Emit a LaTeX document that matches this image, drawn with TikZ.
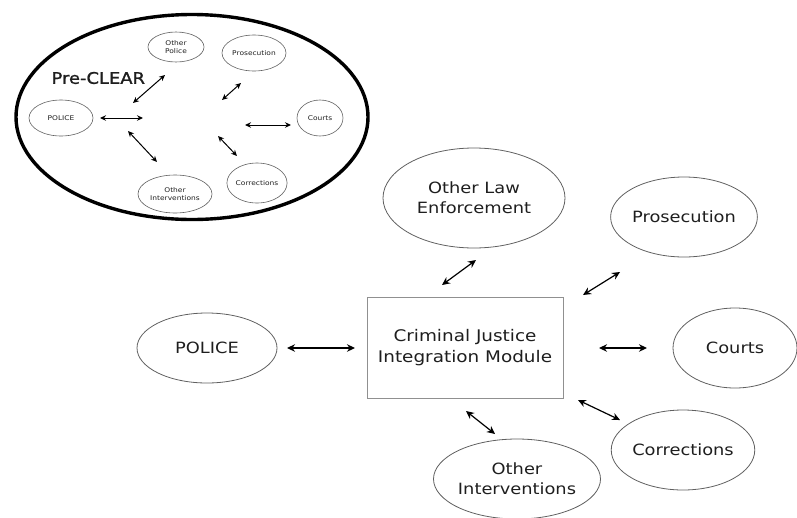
\documentclass[tikz,border=0pt]{standalone}
\usepackage{fontspec}
\setmainfont{DejaVu Sans}[FakeStretch=1.15]
\newfontfamily\titlefont{DejaVu Sans}[FakeStretch=1.12,FakeBold=1.2]
\usetikzlibrary{shapes.geometric,arrows.meta}
\definecolor{txt}{HTML}{1E1E1E}
\definecolor{edge}{HTML}{606060}
\tikzset{
  oval/.style={ellipse, draw=edge, line width=0.8pt, inner sep=0pt, text=txt,
               font=\fontsize{15.5}{20}\selectfont, align=center},
  smalloval/.style={ellipse, draw=edge, line width=0.6pt, inner sep=0pt, text=txt,
               font=\fontsize{6.5}{7.5}\selectfont, align=center},
  hub/.style={rectangle, draw=edge!70, line width=0.8pt, inner sep=0pt, text=txt,
               font=\fontsize{16}{21}\selectfont, align=center},
  link/.style={{Stealth[length=8pt,width=7.5pt]}-{Stealth[length=8pt,width=7.5pt]}, line width=1.2pt, black},
  smalllink/.style={{Stealth[length=6pt,width=5.5pt]}-{Stealth[length=6pt,width=5.5pt]}, line width=1pt, black},
}
\begin{document}
\begin{tikzpicture}[x=1pt,y=-1pt]
\useasboundingbox (0,0) rectangle (797,517);
% ---------- Pre-CLEAR inset ----------
\node[ellipse, draw=black, line width=3.4pt, minimum width=352pt, minimum height=205pt, inner sep=0pt] (preclear) at (192,117) {};
\node[text=txt, font=\titlefont\fontsize{16}{18}\selectfont, anchor=west] (pretitle) at (48,78) {Pre-CLEAR};
\node[smalloval, minimum width=56pt, minimum height=30pt] (sop) at (176,47) {Other\\Police};
\node[smalloval, minimum width=64pt, minimum height=36pt] (spr) at (254,53) {Prosecution};
\node[smalloval, minimum width=64pt, minimum height=36pt] (spo) at (61,118) {POLICE};
\node[smalloval, minimum width=46pt, minimum height=36pt] (sco) at (320,118) {Courts};
\node[smalloval, minimum width=57pt, minimum height=40pt] (scr) at (257,183) {Corrections};
\node[smalloval, minimum width=74pt, minimum height=38pt] (soi) at (175,194) {Other\\Interventions};
\coordinate (a1s) at (133,103); \coordinate (a1e) at (165,75);
\coordinate (a2s) at (222,100); \coordinate (a2e) at (241,83);
\coordinate (a3s) at (100,118); \coordinate (a3e) at (143,118);
\coordinate (a4s) at (245,125); \coordinate (a4e) at (291,125);
\coordinate (a5s) at (128,131); \coordinate (a5e) at (157,162);
\coordinate (a6s) at (218,136); \coordinate (a6e) at (237,156);
\draw[smalllink] (a1s) -- (a1e);
\draw[smalllink] (a2s) -- (a2e);
\draw[smalllink] (a3s) -- (a3e);
\draw[smalllink] (a4s) -- (a4e);
\draw[smalllink] (a5s) -- (a5e);
\draw[smalllink] (a6s) -- (a6e);
% ---------- main diagram ----------
\node[hub, minimum width=196pt, minimum height=101pt] (cjim) at (465,347.5) {Criminal Justice\\Integration Module};
\node[oval, minimum width=182pt, minimum height=100pt] (ole) at (474,198) {Other Law\\Enforcement};
\node[oval, minimum width=134pt, minimum height=80pt] (pro) at (684,217) {Prosecution};
\node[oval, minimum width=124pt, minimum height=80pt] (cou) at (735,348) {Courts};
\node[oval, minimum width=134pt, minimum height=80pt] (cor) at (683,450) {Corrections};
\node[oval, minimum width=150pt, minimum height=80pt] (oin) at (517,479) {Other\\Interventions};
\node[oval, minimum width=140pt, minimum height=70pt] (pol) at (207,348) {POLICE};
\coordinate (b1s) at (287,348); \coordinate (b1e) at (355,348);
\coordinate (b2s) at (442,285); \coordinate (b2e) at (476,260);
\coordinate (b3s) at (583,295); \coordinate (b3e) at (620,272);
\coordinate (b4s) at (599,348); \coordinate (b4e) at (647,348);
\coordinate (b5s) at (578,400); \coordinate (b5e) at (620,420);
\coordinate (b6s) at (466,411); \coordinate (b6e) at (495,434);
\draw[link] (b1s) -- (b1e);
\draw[link] (b2s) -- (b2e);
\draw[link] (b3s) -- (b3e);
\draw[link] (b4s) -- (b4e);
\draw[link] (b5s) -- (b5e);
\draw[link] (b6s) -- (b6e);
\end{tikzpicture}
\end{document}
